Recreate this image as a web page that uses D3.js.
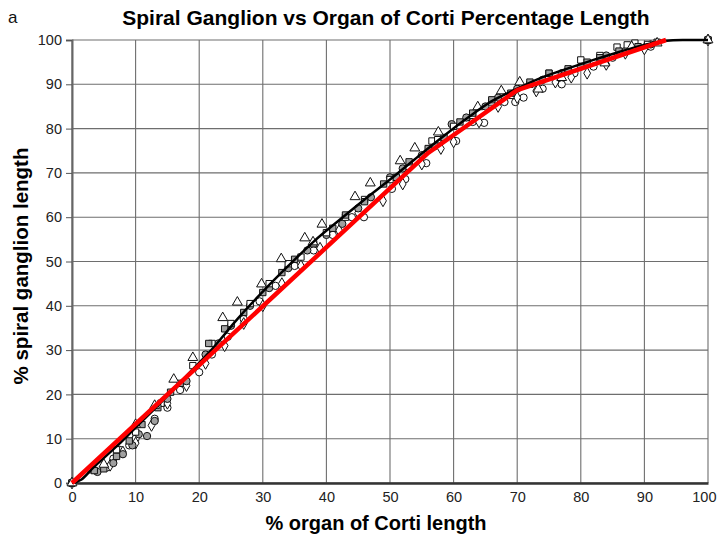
<!DOCTYPE html>
<html>
<head>
<meta charset="utf-8">
<script src="https://cdn.jsdelivr.net/npm/d3@7/dist/d3.min.js"></script>
<style>
  html, body { margin: 0; padding: 0; background: #fff; }
  svg { display: block; font-family: "Liberation Sans", Arial, sans-serif; }
</style>
</head>
<body>
<svg id="chart" width="719" height="538"></svg>
<script>
// Tick values for both axes (percent)
const xTicks = [0, 10, 20, 30, 40, 50, 60, 70, 80, 90, 100];
const yTicks = [0, 10, 20, 30, 40, 50, 60, 70, 80, 90, 100];

// Measured points, [% organ of Corti, % spiral ganglion], one array per specimen
const triangles = [[0,0],[5,4.2],[10,13.2],[13,17.5],[16,23.4],[19,28.3],[23.7,37.3],[26,40.8],[29.8,44.9],[32.9,50.6],[36.6,55.3],[37.9,54.4],[39.3,58.4],[44.5,64.6],[46.9,67.7],[51.6,72.7],[53.9,75.6],[57.6,79.2],[63.8,84.9],[67.5,88.5],[70.4,90.5],[73.3,88.9],[77,91.5],[83.8,94.8],[88,98.5],[92,99.3],[100,100]];
const graySquares = [[0,0],[3.5,2.8],[5,3.2],[7,6],[9,9.5],[11,13.2],[13.5,17],[15.5,20.5],[17,22.5],[21.5,31.5],[24,34.8],[27,38.5],[30,43],[33,47.5],[35,50.5],[38,54],[41,57.5],[43,60.5],[46,63.5],[49,67.5],[51,69],[53,72.5],[56,75.5],[58.5,78],[61,81.5],[63,83.5],[66,86.5],[69,88],[72,90.5],[75,92.5],[78,93.5],[81,95],[83,96],[86,97.5],[89,98.5],[92,99.5],[100,100]];
const grayCircles = [[0,0],[4,2.5],[6.5,4.5],[8,6.5],[9.5,8.5],[10.5,11],[11.8,10.6],[13,14],[15,19],[18,23],[21,29],[23,31.5],[25,35.5],[28,40],[31,44],[34,48.5],[37,52.5],[40,56],[42.5,58.5],[45,62],[47,64.5],[50,69],[52,71],[55,74],[57,76.5],[59.7,81],[62,82.5],[65,85],[67,87],[70,89],[74,91],[77,92.5],[80,94],[84,96.5],[87,97.5],[91,99],[100,100]];
const whiteCircles = [[0,0],[5.5,3.5],[6.5,5.5],[7.5,7.5],[9,8.5],[10,10],[13,14.5],[15,17],[17,21],[20,25],[22,29],[24.5,33],[27,37],[29.5,41],[32,44.5],[35,49],[38,52.5],[41,56],[44,60],[45.9,60],[50.3,66.4],[52.4,68.6],[55.7,72.2],[57,76],[60.4,77.2],[63,81.5],[64.8,81.3],[68,86],[69.7,86],[71,87],[74,89],[77,90],[79,92.5],[82,94],[85,96],[88,98],[91,98.5],[100,100]];
const whiteDiamonds = [[0,0],[6,4],[8,7],[10,9],[12.5,13],[15,18],[18,22],[21,27],[24,31],[27,36],[30,40],[33,45],[36,49],[39,53],[42,57],[45,61],[48.9,63.7],[52,67.5],[55,72],[58,75.5],[60,77],[64,81.5],[67,85],[70,87],[73,88.5],[76,90.5],[78.5,91.6],[81,92.5],[84,94.5],[87,97],[90,98],[100,100]];
const whiteSquares = [[0,0],[3,3],[7,7.5],[10,11.5],[14,18],[19,26.5],[22,31.5],[25,36],[28,40.5],[31,45],[34,49.5],[36,51],[40,56.5],[43,60],[46,64],[50,68.5],[53,71.5],[56.6,77.2],[57.5,77.5],[60,80.5],[63,83],[66,86],[69,87.5],[72,90],[75,92.5],[78,93],[80,95.5],[83,96.5],[85.7,98.4],[87.3,98.9],[88.5,99.3],[90.5,99],[100,100]];

// Smooth mean curve (black)
const meanCurve = [[0,0],[1.5,0.8],[3.3,3.4],[5.5,6.3],[8,9.6],[10,12.5],[14,18.2],[18,24.2],[22,30.2],[26,37],[30,43.2],[34,49],[38,54.5],[42,59.3],[46,64],[50,68.5],[54,73.2],[58,77.8],[62,82.2],[66,86.2],[70,89],[74,91.6],[78,93.6],[82,95.5],[86,97.3],[90,98.9],[93,99.8],[96,100],[100,100]];

// Piecewise linear fit (red)
const linearFit = [[0,0],[56,74.5],[70,88.7],[93.4,100]];

const svg = d3.select("#chart");
const x = d3.scaleLinear().domain([0, 100]).range([72, 708]);
const y = d3.scaleLinear().domain([0, 100]).range([483, 40]);

// Grid
const grid = svg.append("g");
grid.selectAll("line.v").data(xTicks).join("line")
  .attr("x1", d => x(d)).attr("x2", d => x(d))
  .attr("y1", y(0)).attr("y2", y(100))
  .attr("stroke", "#6e6e6e").attr("stroke-width", 1.1);
grid.selectAll("line.h").data(yTicks).join("line")
  .attr("x1", x(0)).attr("x2", x(100))
  .attr("y1", d => y(d)).attr("y2", d => y(d))
  .attr("stroke", "#6e6e6e").attr("stroke-width", 1.1);

// Y axis
const yAxis = svg.append("g").attr("transform", `translate(${x(0)},0)`)
  .call(d3.axisLeft(y).tickValues(yTicks).tickSize(6).tickPadding(4));
yAxis.select(".domain").attr("stroke", "#666").attr("stroke-width", 2);
yAxis.selectAll(".tick line").attr("stroke", "#555");
yAxis.selectAll("text").attr("font-size", 14.5).attr("fill", "#222")
  .attr("font-family", "Liberation Sans, Arial, sans-serif");

// X axis
const xAxis = svg.append("g").attr("transform", `translate(0,${y(0)})`)
  .call(d3.axisBottom(x).tickValues(xTicks).tickSize(0).tickPadding(9));
xAxis.select(".domain").attr("stroke", "#333").attr("stroke-width", 2.5);
xAxis.selectAll("text").attr("font-size", 14.5).attr("fill", "#222")
  .attr("font-family", "Liberation Sans, Arial, sans-serif");
// keep the last label inside the page edge
xAxis.selectAll(".tick").filter(d => d === 100).select("text")
  .attr("text-anchor", "end").attr("dx", "0.55em");

// Scatter markers
const series = [
  { data: whiteCircles, type: d3.symbolCircle, size: 42, fill: "#fff" },
  { data: whiteDiamonds, type: d3.symbolDiamond, size: 40, fill: "#fff" },
  { data: grayCircles, type: d3.symbolCircle, size: 42, fill: "#a0a0a0" },
  { data: whiteSquares, type: d3.symbolSquare, size: 40, fill: "#fff" },
  { data: graySquares, type: d3.symbolSquare, size: 40, fill: "#a0a0a0" },
  { data: triangles, type: d3.symbolTriangle, size: 42, fill: "#fff" }
];
const marks = svg.append("g");
series.forEach(s => {
  marks.append("g").selectAll("path").data(s.data).join("path")
    .attr("d", d3.symbol().type(s.type).size(s.size))
    .attr("transform", d => `translate(${x(d[0])},${y(d[1])})`)
    .attr("fill", s.fill).attr("stroke", "#111").attr("stroke-width", 1);
});

// Mean curve
svg.append("path").datum(meanCurve)
  .attr("d", d3.line().x(d => x(d[0])).y(d => y(d[1])).curve(d3.curveMonotoneX))
  .attr("fill", "none").attr("stroke", "#000").attr("stroke-width", 2.5);

// Linear fit
svg.append("path").datum(linearFit)
  .attr("d", d3.line().x(d => x(d[0])).y(d => y(d[1])))
  .attr("fill", "none").attr("stroke", "#ff0000").attr("stroke-width", 4.5)
  .attr("stroke-linejoin", "round");

// Titles
svg.append("text").attr("x", 8).attr("y", 23).attr("font-size", 17).attr("fill", "#111").text("a");
svg.append("text").attr("x", 386).attr("y", 25).attr("text-anchor", "middle")
  .attr("font-size", 21).attr("font-weight", "bold").attr("fill", "#000")
  .text("Spiral Ganglion vs Organ of Corti Percentage Length");
svg.append("text").attr("x", 376).attr("y", 530).attr("text-anchor", "middle")
  .attr("font-size", 20).attr("font-weight", "bold").attr("fill", "#000")
  .text("% organ of Corti length");
svg.append("text").attr("transform", `translate(28,266) rotate(-90)`).attr("text-anchor", "middle")
  .attr("font-size", 20.5).attr("font-weight", "bold").attr("fill", "#000")
  .text("% spiral ganglion length");
</script>
</body>
</html>
